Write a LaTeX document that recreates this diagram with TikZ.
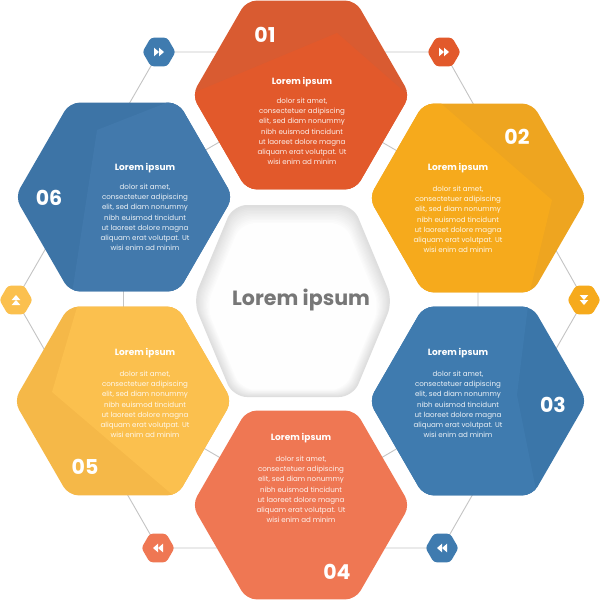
\documentclass[tikz,border=0pt]{standalone}
\usepackage{fontspec}
\setmainfont{Poppins}
\definecolor{cOne}{HTML}{E2592B}
\definecolor{cOneD}{HTML}{D95B31}
\definecolor{cTwo}{HTML}{F6AA1C}
\definecolor{cTwoD}{HTML}{EEA520}
\definecolor{cThree}{HTML}{3F7BAF}
\definecolor{cThreeD}{HTML}{3B76A9}
\definecolor{cFour}{HTML}{EF7753}
\definecolor{cFive}{HTML}{FBC04E}
\definecolor{cFiveD}{HTML}{F5B848}
\definecolor{cSix}{HTML}{4279AC}
\definecolor{cSixD}{HTML}{3D74A6}
\definecolor{lineg}{HTML}{C4C4C4}
\definecolor{centertext}{HTML}{777777}
\newcommand{\hexp}[4]{({#1+0.8660254*#3*cos(#4+30)},{#2+0.8660254*#3*sin(#4+30)}) -- ({#1+#3*cos(#4+60)},{#2+#3*sin(#4+60)}) -- ({#1+#3*cos(#4+120)},{#2+#3*sin(#4+120)}) -- ({#1+#3*cos(#4+180)},{#2+#3*sin(#4+180)}) -- ({#1+#3*cos(#4+240)},{#2+#3*sin(#4+240)}) -- ({#1+#3*cos(#4+300)},{#2+#3*sin(#4+300)}) -- ({#1+#3*cos(#4+360)},{#2+#3*sin(#4+360)}) -- cycle}
\newcommand{\bodytext}{dolor sit amet,\\consectetuer adipiscing\\elit, sed diam nonummy\\nibh euismod tincidunt\\ut laoreet dolore magna\\aliquam erat volutpat. Ut\\wisi enim ad minim}
\newcommand{\dbltri}{\fill[white] (-5,-4.3) -- (0,0) -- (-5,4.3) -- cycle; \fill[white] (0,-4.3) -- (5,0) -- (0,4.3) -- cycle;}
\tikzset{
  hexr/.style={rounded corners=10pt},
  conn/.style={draw=lineg, line width=0.9pt},
  title/.style={text=white, font=\bfseries\fontsize{9}{10}\selectfont, inner sep=0pt},
  bodyt/.style={text=white, text opacity=0.9, font=\fontsize{7.1}{10.3}\selectfont, align=center, inner sep=0pt, anchor=north},
  num/.style={text=white, font=\bfseries\fontsize{20.5}{22}\selectfont, inner sep=0pt},
}
\begin{document}
\begin{tikzpicture}[x=1pt,y=-1pt]
\useasboundingbox (0,0) rectangle (600,600);
\fill[white] (0,0) rectangle (600,600);
% centres and icon points
\coordinate (h1) at (301,95);
\coordinate (h2) at (478,198);
\coordinate (h3) at (478,401);
\coordinate (h4) at (301,505);
\coordinate (h5) at (123,401);
\coordinate (h6) at (124,197);
\coordinate (i1) at (159,52);
\coordinate (i2) at (444,52);
\coordinate (i3) at (584,300);
\coordinate (i4) at (442,548);
\coordinate (i5) at (158,548);
\coordinate (i6) at (16,300);
% connector lines
\draw[conn] (h1) -- (h2) -- (h3) -- (h4) -- (h5) -- (h6) -- cycle;
\draw[conn] (i1) -- (i2) -- (i3) -- (i4) -- (i5) -- (i6) -- cycle;
% hex 01
\fill[cOneD, hexr] \hexp{301}{95}{109}{0};
\begin{scope}\clip[hexr] \hexp{301}{95}{109}{0};
\fill[cOne] (150,111) -- (337,33) -- (440,123) -- (440,250) -- (150,250) -- cycle;\end{scope}
% hex 02
\fill[cTwoD, hexr] \hexp{478}{198}{109}{0};
\begin{scope}\clip[hexr] \hexp{478}{198}{109}{0};
\fill[cTwo] (414,80) -- (552,200) -- (523,320) -- (340,320) -- (340,80) -- cycle;\end{scope}
% hex 03
\fill[cThreeD, hexr] \hexp{478}{401}{109}{0};
\begin{scope}\clip[hexr] \hexp{478}{401}{109}{0};
\fill[cThree] (530,290) -- (517,395) -- (540,510) -- (360,510) -- (360,290) -- cycle;\end{scope}
% hex 04
\fill[cFour, hexr] \hexp{301}{505}{109}{0};
% hex 05
\fill[cFiveD, hexr] \hexp{123}{401}{109}{0};
\begin{scope}\clip[hexr] \hexp{123}{401}{109}{0};
\fill[cFive] (85,280) -- (52,392) -- (202,520) -- (260,520) -- (260,280) -- cycle;\end{scope}
% hex 06
\fill[cSixD, hexr] \hexp{124}{197}{109}{0};
\begin{scope}\clip[hexr] \hexp{124}{197}{109}{0};
\fill[cSix] (97,130) -- (250,70) -- (250,300) -- (71,300) -- cycle;\end{scope}
% centre hex
\foreach \i in {0,...,12}{
  \pgfmathsetmacro\s{1-0.011*\i}
  \pgfmathsetmacro\g{13-1.05*\i}
  \begin{scope}[shift={(293,{301+0.45*\i})}, scale=\s]
  \fill[black!\g, rounded corners=14pt] (0,-96) -- (60,-96) -- (100,0) -- (60,96) -- (-60,96) -- (-100,0) -- (-60,-96) -- cycle;
  \end{scope}
}
\node[text=centertext, font=\bfseries\fontsize{20.6}{24}\selectfont] (ct) at (301,300) {Lorem ipsum};
% texts
\node[title] (t1) at (302,82) {Lorem ipsum};
\node[bodyt] (b1) at (302,97.5) {\bodytext};
\node[num] (n1) at (265,35) {01};
\node[title] (t2) at (458,168) {Lorem ipsum};
\node[bodyt] (b2) at (458,185.5) {\bodytext};
\node[num] (n2) at (517,137) {02};
\node[title] (t3) at (458,353) {Lorem ipsum};
\node[bodyt] (b3) at (458,370.5) {\bodytext};
\node[num] (n3) at (553,405) {03};
\node[title] (t4) at (301,438) {Lorem ipsum};
\node[bodyt] (b4) at (301,455.5) {\bodytext};
\node[num] (n4) at (337,572) {04};
\node[title] (t5) at (145,353) {Lorem ipsum};
\node[bodyt] (b5) at (145,370.5) {\bodytext};
\node[num] (n5) at (85,467) {05};
\node[title] (t6) at (145,168) {Lorem ipsum};
\node[bodyt] (b6) at (145,183.5) {\bodytext};
\node[num] (n6) at (49,198) {06};
% icons
\fill[cThree, rounded corners=3pt] \hexp{159}{52}{16.5}{0};
\begin{scope}[shift={(i1)}]\dbltri\end{scope}
\fill[cOne, rounded corners=3pt] \hexp{444}{52}{16.5}{0};
\begin{scope}[shift={(i2)}]\dbltri\end{scope}
\fill[cTwo, rounded corners=3pt] \hexp{584}{300}{16.5}{0};
\begin{scope}[shift={(i3)}, rotate=-90]\dbltri\end{scope}
\fill[cThree, rounded corners=3pt] \hexp{442}{548}{16.5}{0};
\begin{scope}[shift={(i4)}, rotate=180]\dbltri\end{scope}
\fill[cFour, rounded corners=3pt] \hexp{158}{548}{16.5}{0};
\begin{scope}[shift={(i5)}, rotate=180]\dbltri\end{scope}
\fill[cFive, rounded corners=3pt] \hexp{16}{300}{16.5}{0};
\begin{scope}[shift={(i6)}, rotate=90]\dbltri\end{scope}
\end{tikzpicture}
\end{document}
